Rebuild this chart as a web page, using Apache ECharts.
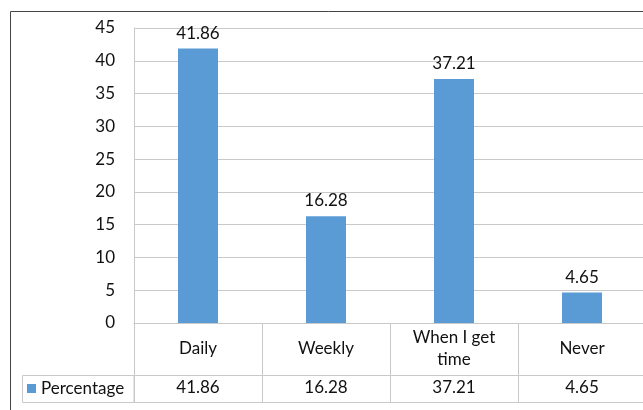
<!DOCTYPE html>
<html>
<head>
<meta charset="utf-8">
<script src="https://cdn.jsdelivr.net/npm/echarts@6/dist/echarts.min.js"></script>
<style>
html,body{margin:0;padding:0;background:#fff;overflow:hidden;width:643px;height:410px;}
#c{width:646px;height:410px;}
</style>
</head>
<body>
<div id="c"></div>
<script>
var categories = ['Daily', 'Weekly', 'When I get\ntime', 'Never'];
var seriesName = 'Percentage';
var values = [41.86, 16.28, 37.21, 4.65];
var yTicks = [0, 5, 10, 15, 20, 25, 30, 35, 40, 45];

var chart = echarts.init(document.getElementById('c'), null, {renderer: 'canvas'});
var gridCol = '#c9c9c9';
var font = 'Lato';
var fs = 17;
var txt = '#111';
chart.setOption({
  animation: false,
  textStyle: {fontFamily: font},
  grid: {left: 134, top: 28, right: 0, bottom: 87, containLabel: false},
  legend: {
    left: 27, top: 380, padding: 0,
    itemWidth: 9, itemHeight: 9, icon: 'rect',
    textStyle: {fontFamily: font, fontSize: fs, color: txt, lineHeight: 17},
    data: [seriesName]
  },
  xAxis: [
    {
      type: 'category', data: categories, position: 'bottom',
      axisLine: {show: true, lineStyle: {color: gridCol, width: 1}},
      axisTick: {show: true, length: 79, interval: 0, lineStyle: {color: gridCol, width: 1}},
      axisLabel: {interval: 0, margin: 26, verticalAlign: 'middle', fontFamily: font, fontSize: fs, color: txt, lineHeight: 22}
    },
    {
      type: 'category', data: categories, position: 'bottom', offset: 52,
      axisLine: {show: true, lineStyle: {color: gridCol, width: 1}},
      axisTick: {show: false},
      axisLabel: {interval: 0, margin: 13, verticalAlign: 'middle', fontFamily: font, fontSize: fs, color: txt,
        formatter: function (v, i) { return values[i].toFixed(2); }}
    },
    {
      type: 'category', data: categories, position: 'bottom', offset: 79,
      axisLine: {show: true, lineStyle: {color: gridCol, width: 1}},
      axisTick: {show: false}, axisLabel: {show: false}
    }
  ],
  yAxis: {
    type: 'value', min: yTicks[0], max: yTicks[yTicks.length - 1], interval: 5,
    axisLine: {show: true, lineStyle: {color: gridCol, width: 1}},
    axisTick: {show: false},
    splitLine: {show: true, lineStyle: {color: gridCol, width: 1}},
    axisLabel: {margin: 19, fontFamily: font, fontSize: fs, color: txt}
  },
  series: [{
    name: seriesName, type: 'bar', data: values, barWidth: 40,
    itemStyle: {color: '#5b9bd5'},
    label: {show: true, position: 'top', distance: 7, fontFamily: font, fontSize: fs, color: txt,
      formatter: function (p) { return p.value.toFixed(2); }}
  }],
  graphic: [
    {type: 'rect', shape: {x: 10.5, y: 11.5, width: 800, height: 600}, style: {fill: null, stroke: '#444', lineWidth: 1}, silent: true, z: 0},
    {type: 'rect', shape: {x: 22.5, y: 375.5, width: 111.5, height: 27}, style: {fill: null, stroke: gridCol, lineWidth: 1}, silent: true, z: 0}
  ]
});
</script>
</body>
</html>
